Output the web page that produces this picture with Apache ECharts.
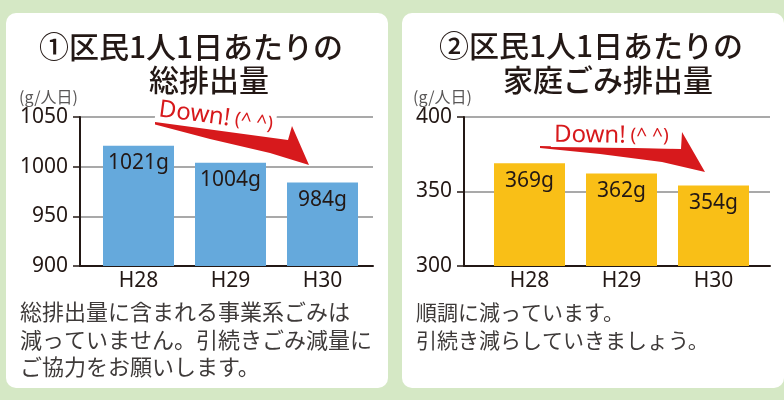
<!DOCTYPE html>
<html>
<head>
<meta charset="utf-8">
<script src="https://cdn.jsdelivr.net/npm/echarts/dist/echarts.min.js"></script>
<style>
  html, body { margin: 0; padding: 0; background: #d5e8c5; }
  #chart { width: 784px; height: 400px; }
</style>
</head>
<body>
<div id="chart"></div>
<script>
// 年度
const years = ['H28', 'H29', 'H30'];
// ①区民1人1日あたりの総排出量 (g/人日)
const totalPerPerson = [1021, 1004, 984];
// ②区民1人1日あたりの家庭ごみ排出量 (g/人日)
const householdPerPerson = [369, 362, 354];
// 目盛
const totalTicks = [900, 950, 1000, 1050];
const householdTicks = [300, 350, 400];

const JP = '"Noto Sans CJK JP", "Noto Sans", sans-serif';
const NUM = '"Noto Sans", "Noto Sans CJK JP", sans-serif';
const INK = '#231815';

function frameY (ticks, idx) {
  return {
    type: 'value',
    gridIndex: idx,
    min: ticks[0],
    max: ticks[ticks.length - 1],
    interval: ticks[1] - ticks[0],
    axisLine: { show: true, lineStyle: { color: INK, width: 2 } },
    axisTick: { show: true, length: 7, lineStyle: { color: INK, width: 1.5 } },
    axisLabel: { color: INK, fontSize: 21, fontFamily: NUM, margin: 12, formatter: v => String(v) },
    splitLine: { show: true, lineStyle: { color: '#8c8c8c', width: 1.5 } }
  };
}
function frameX (idx) {
  return {
    type: 'value',
    gridIndex: idx,
    min: 0,
    max: 1,
    axisLine: { show: true, lineStyle: { color: INK, width: 2 } },
    axisTick: { show: false },
    axisLabel: { show: false },
    splitLine: { show: false }
  };
}
function barX (idx) {
  return {
    type: 'category',
    gridIndex: idx,
    data: years,
    axisLine: { show: false },
    axisTick: { show: false },
    axisLabel: { color: INK, fontSize: 21, fontFamily: NUM, margin: 5 }
  };
}
function barY (ticks, idx) {
  return {
    type: 'value',
    gridIndex: idx,
    min: ticks[0],
    max: ticks[ticks.length - 1],
    show: false
  };
}
function barSeries (data, idx, color) {
  return {
    type: 'bar',
    xAxisIndex: idx,
    yAxisIndex: idx,
    data: data,
    barWidth: 71,
    itemStyle: { color: color },
    label: {
      show: true,
      position: 'insideTop',
      distance: 7,
      formatter: '{c}g',
      color: INK,
      fontSize: 21,
      fontFamily: NUM
    },
    z: 3
  };
}
function txt (text, x, y, size, color, align, weight) {
  return {
    type: 'text',
    z: 50,
    style: {
      text: text, x: x, y: y,
      fill: color,
      font: (weight || 'normal') + ' ' + size + 'px ' + JP,
      textAlign: align || 'left', align: align || 'left',
      textVerticalAlign: 'middle', verticalAlign: 'middle'
    }
  };
}
function downText (x, y, rot) {
  return {
    type: 'text',
    z: 40,
    x: x, y: y,
    rotation: rot,
    style: {
      text: '{a|Down!}{b| (^ ^)}',
      x: 0, y: 0,
      textVerticalAlign: 'middle', verticalAlign: 'middle',
      backgroundColor: '#fff',
      padding: [0, 3],
      rich: {
        a: { fontSize: 24, fontFamily: NUM, fontWeight: 'normal', fill: '#d7191c', color: '#d7191c' },
        b: { fontSize: 19, fontFamily: NUM, fontWeight: 'normal', fill: '#d7191c', color: '#d7191c' }
      }
    }
  };
}
function arrow (pts) {
  return {
    type: 'polygon',
    z: 30,
    shape: { points: pts, smooth: 0 },
    style: { fill: '#d7191c' }
  };
}

const chart = echarts.init(document.getElementById('chart'));
chart.setOption({
  backgroundColor: '#d5e8c5',
  animation: false,
  grid: [
    { left: 80, top: 117, width: 293, height: 149 },
    { left: 92.5, top: 117, width: 276, height: 149 },
    { left: 464, top: 117, width: 306, height: 149 },
    { left: 483.5, top: 117, width: 276, height: 149 }
  ],
  xAxis: [frameX(0), barX(1), frameX(2), barX(3)],
  yAxis: [frameY(totalTicks, 0), barY(totalTicks, 1), frameY(householdTicks, 2), barY(householdTicks, 3)],
  series: [
    { type: 'line', xAxisIndex: 0, yAxisIndex: 0, data: [] },
    barSeries(totalPerPerson, 1, '#65a9dc'),
    { type: 'line', xAxisIndex: 2, yAxisIndex: 2, data: [] },
    barSeries(householdPerPerson, 3, '#f9bf17')
  ],
  graphic: [
    { type: 'rect', z: -100, shape: { x: 6, y: 13, width: 382, height: 375, r: 10 }, style: { fill: '#fff' } },
    { type: 'rect', z: -100, shape: { x: 402, y: 13, width: 382, height: 375, r: 10 }, style: { fill: '#fff' } },
    txt('①区民1人1日あたりの', 191, 47, 30, INK, 'center', 500),
    txt('総排出量', 209, 80, 30, INK, 'center', 500),
    txt('②区民1人1日あたりの', 591, 46, 30, INK, 'center', 500),
    txt('家庭ごみ排出量', 608, 80, 30, INK, 'center', 500),
    txt('(g/人日)', 19, 97, 16, '#595757', 'left'),
    txt('(g/人日)', 413, 97, 16, '#595757', 'left'),
    txt('総排出量に含まれる事業系ごみは', 20, 312, 22, '#3e3a39', 'left'),
    txt('減っていません。引続きごみ減量に', 20, 340, 22, '#3e3a39', 'left'),
    txt('ご協力をお願いします。', 20, 367, 22, '#3e3a39', 'left'),
    txt('順調に減っています。', 416, 312, 21, '#3e3a39', 'left'),
    txt('引続き減らしていきましょう。', 416, 340, 21, '#3e3a39', 'left'),
    arrow([[155, 122], [288, 140], [292, 126], [309, 165], [270, 153], [210, 139], [155, 124.5]]),
    downText(156, 109, -0.13),
    arrow([[540, 146], [681, 149], [682, 132], [705, 172], [662, 162], [600, 154], [540, 148]]),
    downText(551, 135, -0.01)
  ]
});
</script>
</body>
</html>
